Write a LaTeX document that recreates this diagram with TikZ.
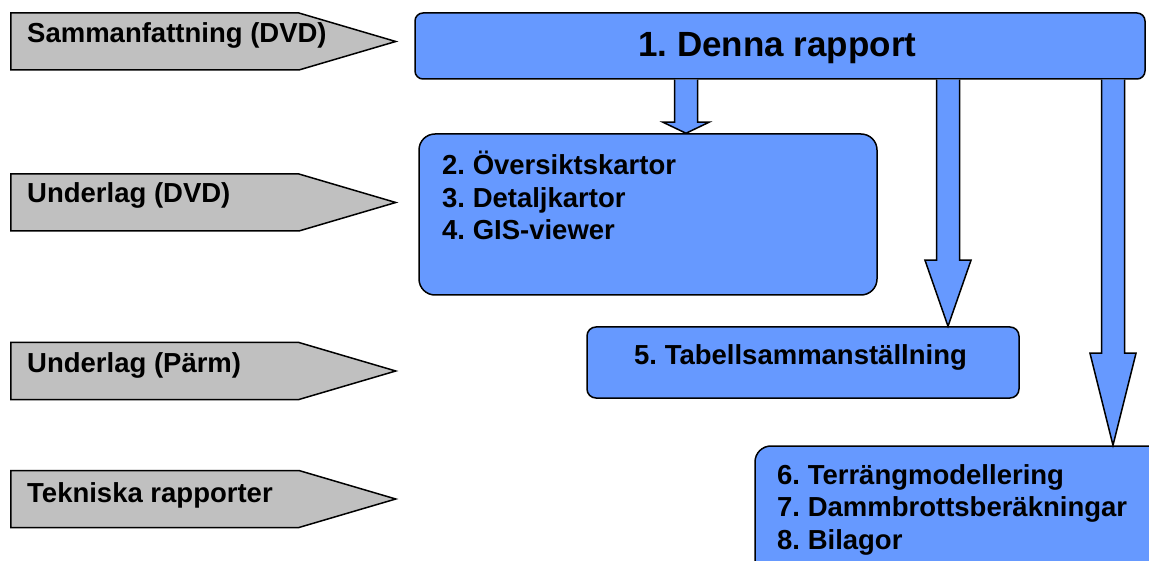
\documentclass[tikz,border=0pt]{standalone}
\usepackage{fontspec}
\setmainfont{Liberation Sans}
\usepackage{xcolor}
\usetikzlibrary{shapes.symbols,calc,positioning}
\definecolor{boxblue}{RGB}{102,153,255}
\definecolor{penngray}{RGB}{192,192,192}

% block arrow: #1 tail, #2 tip, #3 head length
\newcommand{\blockarrow}[3]{%
  \draw[blockarr] ($(#1)+(-11.5,0)$) -- ($(#2)+(-11.5,-#3)$) -- ($(#2)+(-23,-#3)$)
    -- (#2) -- ($(#2)+(23,-#3)$) -- ($(#2)+(11.5,-#3)$) -- ($(#1)+(11.5,0)$);
}

\begin{document}
\frenchspacing
\begin{tikzpicture}[x=1pt,y=-1pt]
		\tikzstyle{every node}=[font=\bfseries\fontsize{27.5}{32.5}\selectfont]
		\tikzstyle{penn}=[draw, line width=1.5pt, fill=penngray, signal, signal to=east, signal pointer angle=32.8, minimum width=385pt, minimum height=57pt, inner sep=0pt, anchor=west]
		\tikzstyle{bluebox}=[draw, line width=1.5pt, fill=boxblue, inner sep=0pt]
		\tikzstyle{blockarr}=[draw, line width=1.5pt, line join=miter, fill=boxblue]
		\tikzstyle{listtext}=[anchor=base west, align=left, inner sep=0pt]
		\useasboundingbox (0,0) rectangle (1149,561);
		\clip (0,0) rectangle (1149,561);
		% left column
		\node [penn] (sammanf) at (10,41.5) {};
		\node [penn] (dvd) at (10,202.5) {};
		\node [penn] (parm) at (10,371) {};
		\node [penn] (teknisk) at (10,499) {};
		\node [listtext] at (27,43) {Sammanfattning (DVD)};
		\node [listtext] at (27,203) {Underlag (DVD)};
		\node [listtext] at (27,373) {Underlag (Pärm)};
		\node [listtext] at (27,502) {Tekniska rapporter};
		% boxes (base of a list = its last line)
		\node [bluebox, rounded corners=8pt, minimum width=730pt, minimum height=66pt] (rapport) at (780,46) {};
		\node [listtext, font=\bfseries\fontsize{35}{40}\selectfont] at (638,57) {1. Denna rapport};
		\node [bluebox, rounded corners=16pt, minimum width=458pt, minimum height=161pt] (oversikt) at (648,214.5) {};
		\node [listtext] at (442,240) {2. Översiktskartor\\3. Detaljkartor\\4. GIS-viewer};
		\node [bluebox, rounded corners=9pt, minimum width=432pt, minimum height=71pt] (tabell) at (803,362.5) {};
		\node [listtext] at (634,365) {5. Tabellsammanställning};
		\node [bluebox, rounded corners=16pt, minimum width=430pt, minimum height=160pt] (terrang) at (970,526) {};
		\node [listtext] at (777,549) {6. Terrängmodellering\\7. Dammbrottsberäkningar\\8. Bilagor};
		% arrows
		\coordinate (tipa) at (oversikt.north -| 686,0);
		\coordinate (taila) at (rapport.south -| tipa);
		\coordinate (tipb) at (tabell.north -| 948,0);
		\coordinate (tailb) at (rapport.south -| tipb);
		\coordinate (tipc) at (terrang.north -| 1113,0);
		\coordinate (tailc) at (rapport.south -| tipc);
		\blockarrow{taila}{tipa}{11}
		\blockarrow{tailb}{tipb}{66}
		\blockarrow{tailc}{tipc}{92}
\end{tikzpicture}
\end{document}
